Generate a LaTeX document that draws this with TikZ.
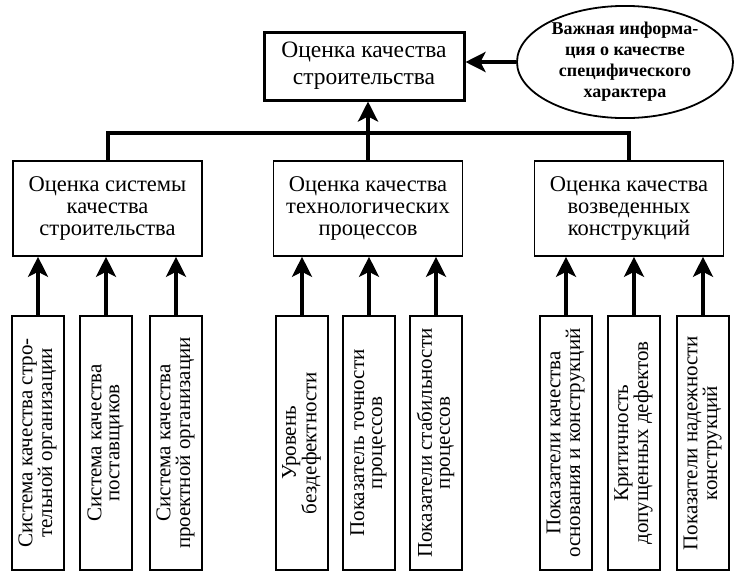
\documentclass[tikz,border=0pt]{standalone}
\usepackage{fontspec}
\setmainfont{Liberation Serif}
\usetikzlibrary{arrows.meta, positioning, shapes.geometric}

\newcommand{\vtext}[1]{\rotatebox{90}{\begin{tabular}{@{}c@{}}#1\end{tabular}}}

\begin{document}
\begin{tikzpicture}[x=1pt, y=-1pt,
  every node/.style={align=center, inner sep=0pt},
  mainbox/.style={draw, line width=3pt, minimum width=200pt, minimum height=68pt, font=\fontsize{23.5}{27}\selectfont},
  groupbox/.style={draw, line width=1.6pt, minimum width=189pt, minimum height=95pt, font=\fontsize{22.5}{22}\selectfont},
  itembox/.style={draw, line width=1.8pt, minimum width=52pt, minimum height=254pt, font=\fontsize{21}{18}\selectfont},
  infoell/.style={draw, ellipse, line width=1.8pt, minimum width=216pt, minimum height=112pt, font=\bfseries\fontsize{18}{21}\selectfont},
  arr/.style={line width=4pt, -{Stealth[length=20pt, width=20pt, inset=5pt]}},
  link/.style={line width=4pt}]
  \useasboundingbox (0,0) rectangle (736,574);

  % top level
  \node[mainbox] (quality) at (364,66) {Оценка качества\\строительства};
  \node[infoell] (info) at (625,62) {Важная информа-\\ция о качестве\\специфического\\характера};
  \draw[arr] (info.west) -- (info.west -| quality.east);

  % second level
  \node[groupbox] (sys) at (107.5,208.5) {Оценка системы\\качества\\строительства};
  \node[groupbox] (tech) at (368,208.5) {Оценка качества\\технологических\\процессов};
  \node[groupbox] (built) at (629,208.5) {Оценка качества\\возведенных\\конструкций};

  \coordinate (bus) at (368,133);
  \draw[link] (sys.north) |- (bus) -| (built.north);
  \draw[arr] (tech.north) -- (tech.north |- quality.south);

  % third level
  \foreach \n/\x/\p/\txt in {
      s1/38/sys/{Система качества стро-\\тельной организации},
      s2/106/sys/{Система качества\\поставщиков},
      s3/176/sys/{Система качества\\проектной организации},
      t1/302/tech/{Уровень\\бездефектности},
      t2/369/tech/{Показатель точности\\процессов},
      t3/436/tech/{Показатели стабильности\\процессов},
      b1/566/built/{Показатели качества\\основания и конструкций},
      b2/634/built/{Критичность\\допущенных дефектов},
      b3/703/built/{Показатели надежности\\конструкций}} {
    \node[itembox] (\n) at (\x,443) {\vtext{\txt}};
    \draw[arr] (\n.north) -- (\n.north |- \p.south);
  }
\end{tikzpicture}
\end{document}
